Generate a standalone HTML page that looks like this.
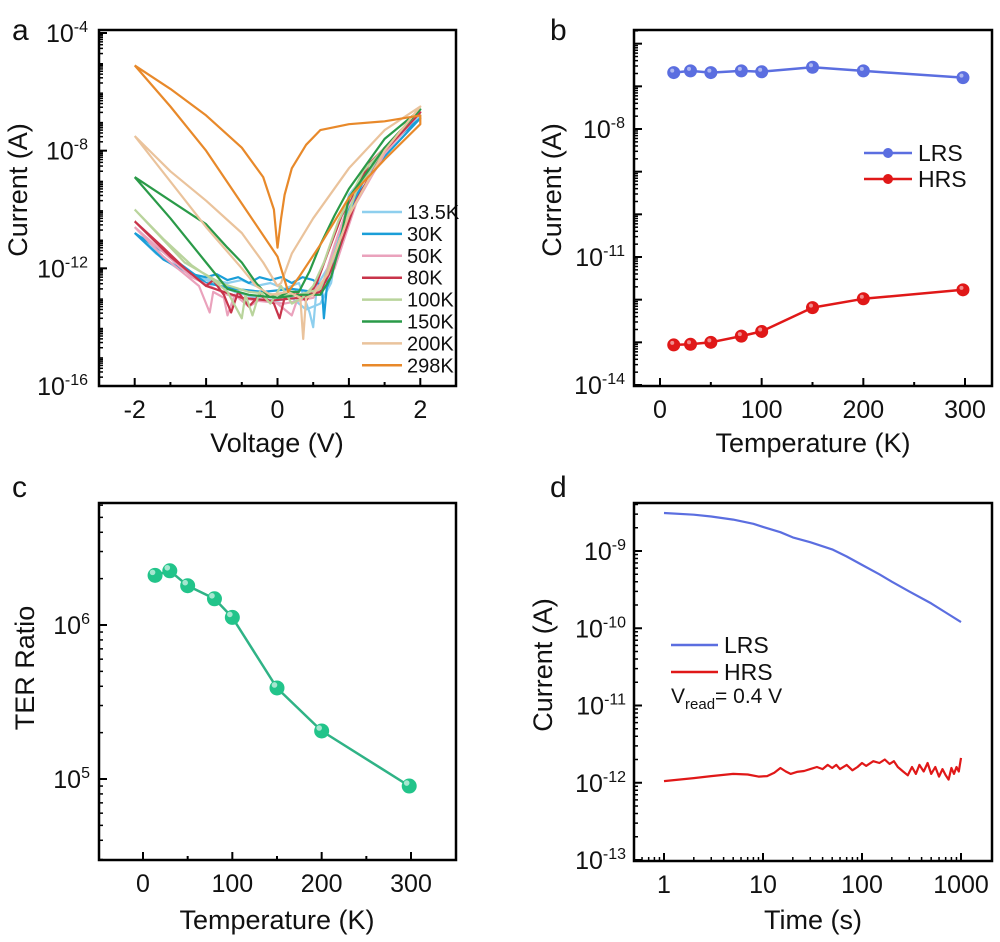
<!DOCTYPE html>
<html><head><meta charset="utf-8"><style>
html,body{margin:0;padding:0;background:#fff}
svg{display:block;font-family:"Liberation Sans",Arial,sans-serif}
</style></head><body>
<svg id="fig" width="1000" height="942" viewBox="0 0 1000 942"></svg>
<script>
// ---------- Panel a data: I-V curves (V, log10 I) ----------
const aLabels=["13.5K","30K","50K","80K","100K","150K","200K","298K"];
const aColors=["#8ecfee","#1a9ed8","#eaa2bc","#c8344a","#b9d49c","#2a9a48","#eac39c","#e8892a"];
const c13=[[-2,-10.8],[-1.7,-11.5],[-1.4,-12.0],[-1.1,-12.3],[-0.9,-12.4],[-0.7,-12.5],[-0.5,-12.4],[-0.3,-12.6],[-0.1,-12.5],[0.1,-12.7],[0.3,-12.5],[0.45,-13.5],[0.5,-14.0],[0.55,-12.6],[0.7,-12.0],[0.9,-10.5],[1.2,-9.0],[1.6,-7.8],[2,-6.8],[1.5,-8.0],[1.0,-9.5],[0.8,-11.8],[0.75,-12.5],[0.6,-13.2],[0.4,-13.4],[0.2,-13.0],[0,-13.1],[-0.3,-13.0],[-0.6,-12.8],[-1,-12.4],[-1.5,-11.8],[-2,-10.8]];
const c30=[[-2,-10.8],[-1.6,-11.7],[-1.2,-12.2],[-1.0,-12.3],[-0.85,-12.2],[-0.7,-12.4],[-0.55,-12.3],[-0.4,-12.5],[-0.25,-12.3],[-0.1,-12.4],[0.05,-12.3],[0.2,-12.5],[0.35,-12.3],[0.5,-12.4],[0.62,-12.6],[0.65,-13.7],[0.7,-12.4],[0.8,-11.5],[1.0,-10.0],[1.3,-8.6],[1.7,-7.5],[2,-6.9],[1.5,-8.2],[1.1,-9.6],[0.85,-11.6],[0.7,-12.6],[0.5,-12.8],[0.2,-12.7],[-0.2,-12.8],[-0.6,-12.7],[-1,-12.5],[-1.5,-11.6],[-2,-10.8]];
const c50=[[-2,-10.6],[-1.6,-11.6],[-1.3,-12.2],[-1.1,-12.6],[-0.95,-13.5],[-0.9,-12.8],[-0.75,-13.0],[-0.7,-13.6],[-0.6,-12.9],[-0.4,-13.3],[-0.2,-13.0],[0,-13.2],[0.2,-13.6],[0.3,-12.9],[0.5,-12.8],[0.65,-12.4],[0.8,-11.2],[1.0,-9.8],[1.4,-8.2],[2,-6.7],[1.5,-8.1],[1.1,-9.8],[0.8,-12.0],[0.5,-13.0],[0.1,-13.2],[-0.3,-13.1],[-0.7,-12.9],[-1.2,-12.3],[-2,-10.6]];
const c80=[[-2,-10.4],[-1.6,-11.3],[-1.3,-12.0],[-1.0,-12.6],[-0.9,-12.4],[-0.75,-12.9],[-0.65,-13.5],[-0.55,-12.8],[-0.4,-13.3],[-0.25,-12.9],[-0.05,-13.2],[0.03,-13.7],[0.1,-13.0],[0.25,-12.8],[0.4,-13.1],[0.55,-12.5],[0.7,-11.5],[0.9,-10.2],[1.3,-8.4],[2,-6.7],[1.5,-8.0],[1.1,-9.7],[0.8,-11.8],[0.6,-12.8],[0.3,-13.0],[-0.1,-13.1],[-0.5,-13.0],[-1.0,-12.6],[-1.5,-11.6],[-2,-10.4]];
const c100=[[-2,-10.0],[-1.6,-11.0],[-1.2,-11.9],[-0.9,-12.4],[-0.7,-12.8],[-0.5,-13.7],[-0.45,-12.9],[-0.35,-13.6],[-0.25,-12.8],[-0.1,-13.2],[0.05,-12.6],[0.2,-13.2],[0.35,-13.0],[0.5,-12.6],[0.65,-11.8],[0.85,-10.4],[1.2,-8.7],[2,-6.6],[1.5,-7.9],[1.1,-9.4],[0.8,-11.5],[0.6,-12.7],[0.3,-12.9],[0,-12.9],[-0.4,-12.8],[-0.8,-12.5],[-1.3,-11.8],[-2,-10.0]];
const c150=[[-2,-8.9],[-1.5,-9.7],[-1,-10.5],[-0.7,-11.3],[-0.5,-11.8],[-0.3,-12.5],[-0.15,-12.9],[0,-13.0],[0.15,-12.8],[0.3,-12.8],[0.45,-12.1],[0.6,-11.2],[0.8,-10.2],[1.0,-9.3],[1.5,-7.6],[2,-6.6],[1.5,-7.9],[1.0,-9.6],[0.85,-11.4],[0.75,-12.3],[0.6,-12.9],[0.3,-12.9],[0,-13.0],[-0.4,-12.9],[-0.7,-12.7],[-1,-11.8],[-1.5,-10.3],[-2,-8.9]];
const c200=[[-2,-7.5],[-1.5,-8.7],[-1,-9.7],[-0.5,-10.8],[-0.2,-11.8],[0,-12.6],[0.05,-12.5],[0.2,-11.5],[0.5,-10.3],[1,-8.6],[1.5,-7.3],[2,-6.5],[1.5,-8.0],[1.0,-10.2],[0.7,-12.2],[0.5,-12.9],[0.4,-13.0],[0.36,-14.4],[0.32,-13.0],[0.15,-12.8],[-0.1,-12.9],[-0.3,-12.6],[-0.5,-12.0],[-1,-10.6],[-2,-7.5]];
const c298=[[-2,-5.1],[-1.5,-5.9],[-1,-6.8],[-0.5,-7.9],[-0.2,-8.9],[-0.05,-10.0],[0,-11.3],[0.05,-10.3],[0.1,-9.5],[0.2,-8.6],[0.4,-7.8],[0.6,-7.3],[1,-7.1],[1.5,-7.0],[2,-6.8],[2,-7.1],[1.5,-8.3],[1,-9.6],[0.6,-11.2],[0.3,-12.3],[0.15,-12.8],[0,-11.6],[-0.5,-9.8],[-1,-8.0],[-1.5,-6.5],[-2,-5.1]];
const aCurves=[c13,c30,c50,c80,c100,c150,c200,c298];
const aXTicks=[-2,-1,0,1,2];
const aYTicks=[-4,-8,-12,-16];
// ---------- Panel b data ----------
const bTemps=[13.5,30,50,80,100,150,200,298];
const bLRS=[2.1e-7,2.3e-7,2.1e-7,2.3e-7,2.2e-7,2.8e-7,2.3e-7,1.6e-7];
const bHRS=[8.7e-14,9.0e-14,1.0e-13,1.4e-13,1.8e-13,6.5e-13,1.05e-12,1.7e-12];
const bXTicks=[0,100,200,300];
const bYTicks=[-8,-11,-14];
// ---------- Panel c data ----------
const cTemps=[13.5,30,50,80,100,150,200,298];
const cTER=[2.1e6,2.25e6,1.8e6,1.48e6,1.12e6,3.9e5,2.05e5,9.0e4];
const cXTicks=[0,100,200,300];
const cYTicks=[6,5];
// ---------- Panel d data ----------
const dTimeL=[1,2,3,5,8,10,15,20,30,50,70,100,150,200,300,500,700,1000];
const dLRS=[3.1e-9,2.95e-9,2.8e-9,2.55e-9,2.25e-9,2.05e-9,1.75e-9,1.5e-9,1.3e-9,1.05e-9,8.5e-10,6.6e-10,5.0e-10,4.0e-10,3.0e-10,2.1e-10,1.6e-10,1.2e-10];
const dTimeH=[1,2,3,5,7,9,11,13,15,17,19,22,26,30,35,40,45,50,55,60,70,80,90,100,110,130,150,170,190,210,230,260,290,320,350,380,420,460,500,550,600,650,700,750,800,850,900,950,1000];
const dHRS=[1.05e-12,1.15e-12,1.22e-12,1.3e-12,1.28e-12,1.2e-12,1.22e-12,1.35e-12,1.55e-12,1.4e-12,1.3e-12,1.38e-12,1.42e-12,1.5e-12,1.6e-12,1.5e-12,1.7e-12,1.55e-12,1.7e-12,1.5e-12,1.7e-12,1.45e-12,1.6e-12,1.8e-12,1.65e-12,1.9e-12,1.8e-12,2.0e-12,1.75e-12,1.9e-12,1.6e-12,1.4e-12,1.25e-12,1.6e-12,1.3e-12,1.7e-12,1.4e-12,1.8e-12,1.3e-12,1.6e-12,1.2e-12,1.5e-12,1.25e-12,1.1e-12,1.55e-12,1.3e-12,1.6e-12,1.4e-12,2.1e-12];
const dXTicks=[0,1,2,3];
const dYTicks=[-9,-10,-11,-12,-13];

const NS="http://www.w3.org/2000/svg";
const svg=document.getElementById('fig');
function mk(tag,attrs,parent){const e=document.createElementNS(NS,tag);for(const k in attrs)e.setAttribute(k,attrs[k]);(parent||svg).appendChild(e);return e;}
function txt(x,y,s,size,anchor,parent){const t=mk('text',{x:x,y:y,'font-size':size,'text-anchor':anchor||'middle',fill:'#111'},parent);t.textContent=s;return t;}
function pow10(x,y,base,exp,parent){const t=mk('text',{x:x,y:y,'font-size':25,'text-anchor':'end',fill:'#111'},parent);
 const a=mk('tspan',{},t);a.textContent=base;const b=mk('tspan',{dy:-10,'font-size':16},t);b.textContent=exp;return t;}
function frame(x0,y0,x1,y1,name){const r=mk('rect',{x:x0,y:y0,width:x1-x0,height:y1-y0,fill:'none',stroke:'#000','stroke-width':2.5});
 
 }
function lin(d0,d1,p0,p1){return v=>p0+(v-d0)/(d1-d0)*(p1-p0);}
function line(pts,color,w,name,parent){const p=mk('polyline',{points:pts.map(q=>q[0].toFixed(1)+','+q[1].toFixed(1)).join(' '),fill:'none',stroke:color,'stroke-width':w,'stroke-linejoin':'round'},parent);
 
 return p;}
function logMinor(g,xl,ya,yb,decStart,decEnd,ys,step){for(let d=decStart;d<decEnd;d+=step){for(let m=2;m<=9;m++){const y=ys(d+Math.log10(m)*step);if(y<ya-0.5||y>yb+0.5)continue;mk('line',{x1:xl,x2:xl+4,y1:y,y2:y,stroke:'#000','stroke-width':1.5},g);}}}

// ===== Panel a =====
(function(){
 const g=mk('g',{});
 const X=lin(-2.5,2.5,99,456), Y=lin(-4,-16,33,386);
 const L=txt(12,40,'a',30,'start',g);
 const cl=mk('clipPath',{id:'clipa'},g);mk('rect',{x:99,y:30,width:357,height:356},cl);
 const pg=mk('g',{'clip-path':'url(#clipa)'},g);
 aCurves.forEach((c,i)=>{line(c.map(p=>[X(p[0]),Y(p[1])]),aColors[i],2.2,'iv-curve-'+aLabels[i].toLowerCase(),pg);});
 frame(99,30,456,386,'plot-frame-a');
 aXTicks.forEach(v=>{mk('line',{x1:X(v),x2:X(v),y1:386,y2:378,stroke:'#000','stroke-width':2},g);const t=txt(X(v),418,String(v),25,'middle',g);});
 [-1.5,-0.5,0.5,1.5].forEach(v=>mk('line',{x1:X(v),x2:X(v),y1:386,y2:382,stroke:'#000','stroke-width':2},g));
 aYTicks.forEach(v=>{mk('line',{x1:99,x2:107,y1:Y(v),y2:Y(v),stroke:'#000','stroke-width':2},g);const t=pow10(88,Y(v)+9,'10',String(v),g);});
 logMinor(g,99,31,386,-16,-4,Y,1);
 const yt=txt(0,0,'Current (A)',27,'middle',g);yt.setAttribute('transform','translate(27,190) rotate(-90)');
 const xt=txt(277,452,'Voltage (V)',27,'middle',g);
 aLabels.forEach((s,i)=>{const y=212+i*21.9;const lg=mk('g',{},g);
  mk('line',{x1:362,x2:402,y1:y,y2:y,stroke:aColors[i],'stroke-width':2.5},lg);txt(407,y+7,s,20,'start',lg);});
})();

// ===== Panel b =====
(function(){
 const g=mk('g',{});
 const X=lin(0,300,660,965), Y=lin(-8,-14,129,385);
 const L=txt(550,40,'b',30,'start',g);
 frame(634,30,992,386,'plot-frame-b');
 bXTicks.forEach(v=>{mk('line',{x1:X(v),x2:X(v),y1:386,y2:378,stroke:'#000','stroke-width':2},g);const t=txt(X(v),418,String(v),25,'middle',g);});
 [50,150,250].forEach(v=>mk('line',{x1:X(v),x2:X(v),y1:386,y2:382,stroke:'#000','stroke-width':2},g));
 bYTicks.forEach(v=>{mk('line',{x1:634,x2:642,y1:Y(v),y2:Y(v),stroke:'#000','stroke-width':2},g);const t=pow10(625,Y(v)+9,'10',String(v),g);});
 logMinor(g,634,31,386,-14,-5,Y,1);
 [-6,-7,-9,-10,-12,-13].forEach(v=>mk('line',{x1:634,x2:642,y1:Y(v),y2:Y(v),stroke:'#000','stroke-width':2},g));
 function series(vals,col,name){line(bTemps.map((t,i)=>[X(t),Y(Math.log10(vals[i]))]),col,2.5,name+'-line',g);
  bTemps.forEach((t,i)=>{const c=mk('circle',{cx:X(t),cy:Y(Math.log10(vals[i])),r:6,fill:col,stroke:col},g);
   mk('circle',{cx:X(t)-1.5,cy:Y(Math.log10(vals[i]))-2,r:2,fill:'#fff','fill-opacity':0.5},g);});}
 series(bLRS,'#5b6ee0','lrs');series(bHRS,'#e01818','hrs');
 [['LRS','#5b6ee0',153],['HRS','#e01818',179]].forEach(e=>{const lg=mk('g',{},g);
  mk('line',{x1:864,x2:912,y1:e[2],y2:e[2],stroke:e[1],'stroke-width':2.5},lg);mk('circle',{cx:888,cy:e[2],r:5,fill:e[1]},lg);txt(918,e[2]+8,e[0],23,'start',lg);});
 const yt=txt(0,0,'Current (A)',27,'middle',g);yt.setAttribute('transform','translate(561,190) rotate(-90)');
 const xt=txt(813,452,'Temperature (K)',27,'middle',g);
})();

// ===== Panel c =====
(function(){
 const g=mk('g',{});
 const X=lin(0,300,143,411), Y=lin(6,5,625,779);
 const L=txt(12,497,'c',30,'start',g);
 frame(99,503,456,860,'plot-frame-c');
 cXTicks.forEach(v=>{mk('line',{x1:X(v),x2:X(v),y1:860,y2:852,stroke:'#000','stroke-width':2},g);const t=txt(X(v),892,String(v),25,'middle',g);});
 [50,150,250].forEach(v=>mk('line',{x1:X(v),x2:X(v),y1:860,y2:856,stroke:'#000','stroke-width':2},g));
 cYTicks.forEach(v=>{mk('line',{x1:99,x2:107,y1:Y(v),y2:Y(v),stroke:'#000','stroke-width':2},g);const t=pow10(90,Y(v)+9,'10',String(v),g);});
 logMinor(g,99,504,860,4,7,Y,1);
 line(cTemps.map((t,i)=>[X(t),Y(Math.log10(cTER[i]))]),'#2fb386',2.5,'ter-line',g);
 cTemps.forEach((t,i)=>{const cx=X(t),cy=Y(Math.log10(cTER[i]));const c=mk('circle',{cx:cx,cy:cy,r:7.5,fill:'#22c48a'},g);
  mk('circle',{cx:cx-2.5,cy:cy-3,r:2.8,fill:'#fff','fill-opacity':0.6},g);});
 const yt=txt(0,0,'TER Ratio',27,'middle',g);yt.setAttribute('transform','translate(34,668) rotate(-90)');
 const xt=txt(277,929,'Temperature (K)',27,'middle',g);
})();

// ===== Panel d =====
(function(){
 const g=mk('g',{});
 const X=lin(0,3,664,961), Y=lin(-9,-13,551,860);
 const L=txt(550,497,'d',30,'start',g);
 frame(634,503,992,861,'plot-frame-d');
 const xl=['1','10','100','1000'];
 dXTicks.forEach((v,i)=>{mk('line',{x1:X(v),x2:X(v),y1:861,y2:853,stroke:'#000','stroke-width':2},g);const t=txt(X(v),893,xl[i],25,'middle',g);});
 for(let d=-1;d<3;d++)for(let m=2;m<=9;m++){const x=X(d+Math.log10(m));if(x<635)continue;mk('line',{x1:x,x2:x,y1:861,y2:857,stroke:'#000','stroke-width':1.5},g);}
 dYTicks.forEach(v=>{mk('line',{x1:634,x2:642,y1:Y(v),y2:Y(v),stroke:'#000','stroke-width':2},g);const t=pow10(626,Y(v)+9,'10',String(v),g);});
 logMinor(g,634,504,861,-13,-8,Y,1);
 line(dTimeL.map((t,i)=>[X(Math.log10(t)),Y(Math.log10(dLRS[i]))]),'#5b6ee0',2.2,'lrs-retention-line',g);
 line(dTimeH.map((t,i)=>[X(Math.log10(t)),Y(Math.log10(dHRS[i]))]),'#e01818',2.2,'hrs-retention-line',g);
 [['LRS','#5b6ee0',645],['HRS','#e01818',672]].forEach(e=>{const lg=mk('g',{},g);
  mk('line',{x1:671,x2:718,y1:e[2],y2:e[2],stroke:e[1],'stroke-width':2.5},lg);txt(724,e[2]+8,e[0],23,'start',lg);});
 const vt=mk('text',{x:671,y:703,'font-size':21,fill:'#111'},g);
 const s1=mk('tspan',{},vt);s1.textContent='V';const s2=mk('tspan',{dy:6,'font-size':15},vt);s2.textContent='read';const s3=mk('tspan',{dy:-6},vt);s3.textContent='= 0.4 V';
 const yt=txt(0,0,'Current (A)',27,'middle',g);yt.setAttribute('transform','translate(552,665) rotate(-90)');
 const xt=txt(813,929,'Time (s)',27,'middle',g);
})();
</script>
</body></html>
